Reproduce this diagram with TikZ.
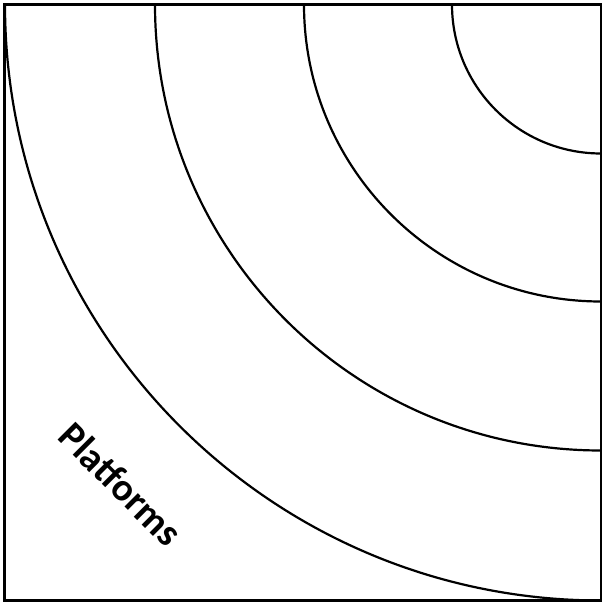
\documentclass[tikz,border=0pt]{standalone}
\usepackage{fontspec}
\setmainfont{Carlito}
\usetikzlibrary{positioning,calc}

\begin{document}
\begin{tikzpicture}[x=1pt, y=1pt, line width=2.2pt]
    \useasboundingbox (0,0) rectangle (604,606);
    \draw (4.5,5.5) rectangle (601,601.5);
    \coordinate (corner) at (601,601.5);
    \foreach \r in {149,297,446,596}
        \draw ($(corner)+(-\r pt,0)$) arc[start angle=180, end angle=270, radius=\r pt];
    \node[rotate=-45, font=\bfseries\fontsize{39}{45}\selectfont] (plat) at (121,122) {Platforms};
\end{tikzpicture}
\end{document}
